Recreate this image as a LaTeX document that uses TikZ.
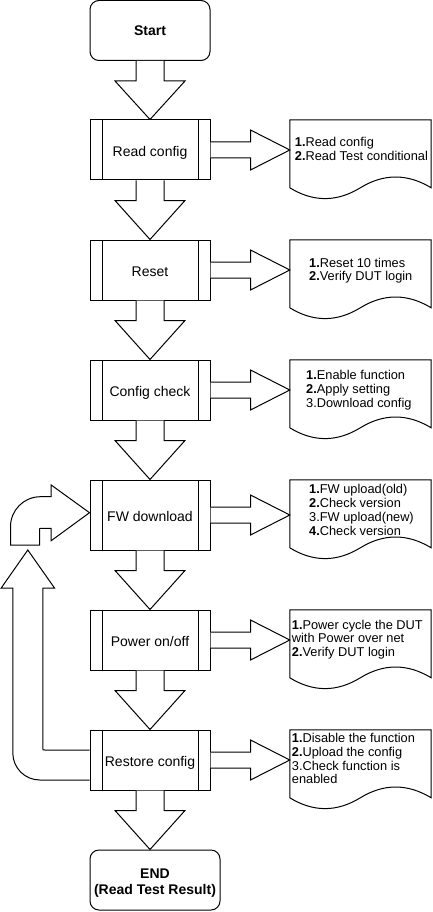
\documentclass[tikz,border=0pt]{standalone}
\usepackage{fontspec}
\setmainfont{Liberation Sans}
\usetikzlibrary{calc}

\tikzset{
  lw/.style={line width=1pt, line join=miter, draw=black},
  procbox/.style={draw, line width=1pt, minimum width=120pt, minimum height=60pt,
    inner sep=0pt, text height=13pt, text depth=0pt,
    font=\fontsize{14}{16}\selectfont,
    path picture={
      \draw[line width=1pt] ([xshift=12pt]path picture bounding box.north west) -- ([xshift=12pt]path picture bounding box.south west);
      \draw[line width=1pt] ([xshift=-12pt]path picture bounding box.north east) -- ([xshift=-12pt]path picture bounding box.south east);
    }},
  termbox/.style={draw, line width=1pt, rounded corners=9pt, minimum width=120pt,
    minimum height=60pt, inner sep=0pt, align=center,
    font=\bfseries\fontsize{14}{16}\selectfont},
  docnode/.style={draw=none, minimum width=141pt, minimum height=80pt, inner sep=0pt},
  doctext/.style={anchor=north west, inner sep=0pt, align=left,
    font=\fontsize{12.8}{13.8}\selectfont},
}

\newcommand\bigdown[2]{%
  \draw[lw, fill=white] ($(#1.south)+(-14,0)$) -- ++(0,20) -- ++(-21,0)
    -- (#1.south |- #2.north) -- ($(#1.south)+(35,20)$) -- ++(-21,0) -- ++(0,-20);}
\newcommand\bigright[2]{%
  \draw[lw, fill=white] ($(#1.east)+(0,-8)$) -- ++(40,0) -- ++(0,-12)
    -- (#2.west |- #1.east) -- ($(#1.east)+(40,20)$) -- ++(0,-12) -- ++(-40,0);}
\newcommand\docshape[1]{%
  \draw[lw] (#1.north west) -- (#1.north east) -- ($(#1.north east)+(0,68)$)
    .. controls ($(#1.north west)+(117.5,53.6)$) and ($(#1.north west)+(94,53.6)$) .. ($(#1.north west)+(70.5,68)$)
    .. controls ($(#1.north west)+(47,82.4)$) and ($(#1.north west)+(23.5,82.4)$) .. ($(#1.north west)+(0,68)$)
    -- cycle;}

\begin{document}
\begin{tikzpicture}[x=1pt,y=-1pt]
\fill[white] (0,0) rectangle (432,912);
\useasboundingbox (0,0) rectangle (432,912);

% main flow
\node[termbox] (start) at (150,30.5) {Start};
\node[procbox] (rc) at (150,150) {Read config};
\node[procbox] (rs) at (150,270) {Reset};
\node[procbox] (cc) at (150,390) {Config check};
\node[procbox, minimum height=70pt] (fw) at (150,515) {FW download};
\node[procbox] (po) at (150,640) {Power on/off};
\node[procbox] (ro) at (150,760) {Restore config};
\node[termbox, minimum width=130pt] (end) at (155,880) {\rule{0pt}{15.5pt}END\\(Read Test Result)};

\bigdown{start}{rc}
\bigdown{rc}{rs}
\bigdown{rs}{cc}
\bigdown{cc}{fw}
\bigdown{fw}{po}
\bigdown{po}{ro}
\bigdown{ro}{end}

% documents
\node[docnode] (d1) at (360.5,160) {};
\node[docnode] (d2) at (360.5,280) {};
\node[docnode] (d3) at (360.5,400) {};
\node[docnode] (d4) at (360.5,520) {};
\node[docnode] (d5) at (360.5,650) {};
\node[docnode] (d6) at (360.5,770) {};
\docshape{d1}
\docshape{d2}
\docshape{d3}
\docshape{d4}
\docshape{d5}
\docshape{d6}

\bigright{rc}{d1}
\bigright{rs}{d2}
\bigright{cc}{d3}
\bigright{fw}{d4}
\bigright{po}{d5}
\bigright{ro}{d6}

\node[doctext] (t1) at (294.7,136.7) {\strut\textbf{1.}Read config\\\textbf{2.}Read Test conditional};
\node[doctext] (t2) at (309,257.2) {\strut\textbf{1.}Reset 10 times\\\textbf{2.}Verify DUT login};
\node[doctext] (t3) at (306,369.9) {\strut\textbf{1.}Enable function\\\textbf{2.}Apply setting\\3.Download config};
\node[doctext] (t4) at (309,483.9) {\strut\textbf{1.}FW upload(old)\\\textbf{2.}Check version\\3.FW upload(new)\\\textbf{4.}Check version};
\node[doctext] (t5) at (291.7,619.2) {\strut\textbf{1.}Power cycle the DUT\\with Power over net\\\textbf{2.}Verify DUT login};
\node[doctext] (t6) at (291.7,732.6) {\strut\textbf{1.}Disable the function\\\textbf{2.}Upload the config\\3.Check function is\\enabled};

% loop-back arrow from Restore config
\begin{scope}[shift={(ro.west)}]
  \draw[lw, fill=white] (0,-10) -- (-44.7,-10) .. controls (-46.7,-10) .. (-46.7,-12)
    -- (-46.7,-172) -- (-35,-172) -- (-61.7,-210) -- (-88.3,-172) -- (-76.7,-172)
    -- (-76.7,-7) .. controls (-76.7,7.9) and (-64.6,20) .. (-49.7,20) -- (0,20);
\end{scope}
% bent arrow into FW download
\begin{scope}[shift={(fw.west)}]
  \draw[lw, fill=white] (-79,30) -- (-50,30) -- (-50,15.3) .. controls (-50,13.3) .. (-48,13.3)
    -- (-38.3,13.3) -- (-38.3,25.7) -- (0,-2.3) -- (-38.3,-30) -- (-38.3,-18.3)
    -- (-49,-18.3) .. controls (-65.6,-18.3) and (-79,-4.9) .. (-79,11.7) -- cycle;
\end{scope}
\end{tikzpicture}
\end{document}
